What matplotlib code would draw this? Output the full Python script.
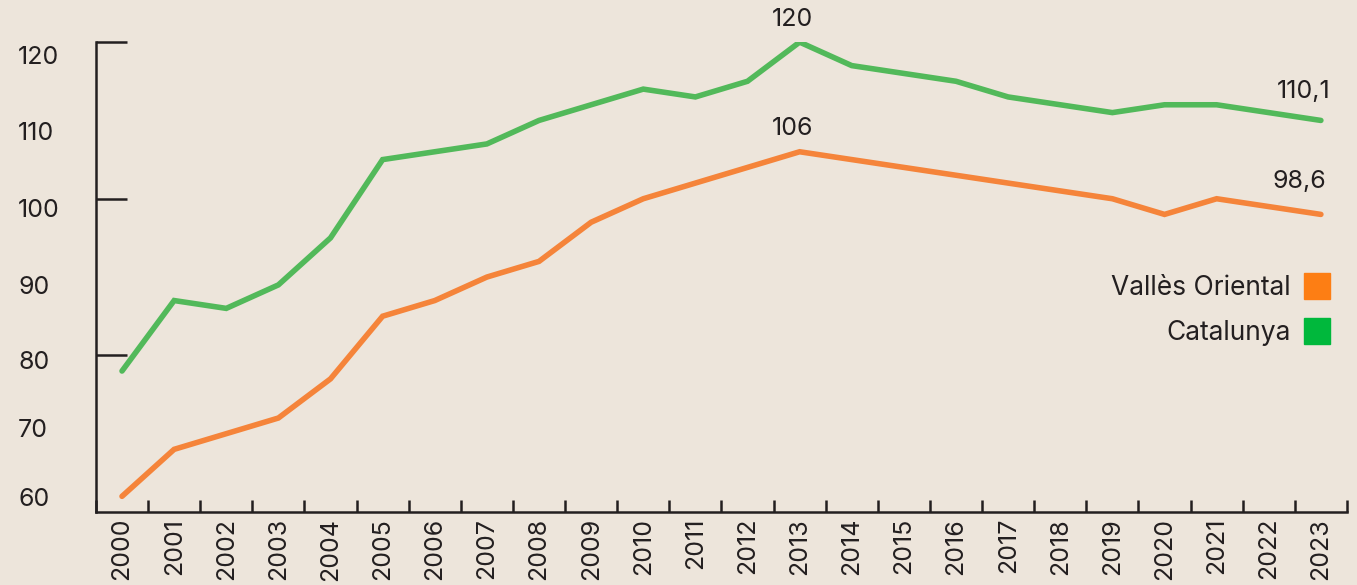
import numpy as np
import matplotlib
matplotlib.use("Agg")
import matplotlib.pyplot as plt
from matplotlib.lines import Line2D

plt.rcParams['font.family'] = ['Inter', 'DejaVu Sans']

years = [str(y) for y in range(2000, 2024)]
catalunya = [78, 87, 86, 89, 95, 105, 106, 107, 110, 112, 114, 113,
             115, 120, 117, 116, 115, 113, 112, 111, 112, 112, 111, 110]
valles = [62, 68, 70, 72, 77, 85, 87, 90, 92, 97, 100, 102,
          104, 106, 105, 104, 103, 102, 101, 100, 98, 100, 99, 98]
ytick_labels = ['60', '70', '80', '90', '100', '110', '120']
labels_series = ['Vallès Oriental', 'Catalunya']

bg = '#ede5db'
ink = '#231f20'
green = '#52b95a'
orange = '#f5843a'

fig = plt.figure(figsize=(13.57, 5.85), dpi=100, facecolor=bg)
ax = fig.add_axes([0.0707, 0.1248, 0.9926 - 0.0707, 0.928 - 0.1248])
ax.set_facecolor(bg)

x = np.arange(len(years))
ax.plot(x, catalunya, color=green, lw=4, solid_capstyle='round', solid_joinstyle='miter')
ax.plot(x, valles, color=orange, lw=4, solid_capstyle='round', solid_joinstyle='miter')

ax.set_xlim(-0.5, len(years) - 0.5)
ax.set_ylim(60, 120)

for s in ['top', 'right']:
    ax.spines[s].set_visible(False)
for s in ['left', 'bottom']:
    ax.spines[s].set_color(ink)
    ax.spines[s].set_linewidth(1.8)

# y: labels sit a bit off their values in the original, long ticks only every 20
label_pos = [61.9, 70.7, 79.4, 89.0, 98.8, 108.6, 118.3]
ax.set_yticks(label_pos, ytick_labels)
ax.set_yticks([80, 100, 120], minor=True)
ax.tick_params(axis='y', which='major', length=0, pad=56, labelsize=18, labelcolor=ink)
for t in ax.get_yticklabels():
    t.set_horizontalalignment('left')
ax.tick_params(axis='y', which='minor', direction='in', length=22.3, width=1.8, color=ink)

# x: ticks between years, labels rotated
ax.set_xticks(np.arange(-0.5, len(years)), [''] * (len(years) + 1))
ax.set_xticks(x, years, minor=True)
ax.tick_params(axis='x', which='major', direction='in', length=8.6, width=1.8, color=ink)
ax.tick_params(axis='x', which='minor', length=0, pad=4.3, labelsize=18,
               labelcolor=ink, labelrotation=90)

def note(i, vals, txt, dx, dy, ha):
    ax.annotate(txt, (x[i], vals[i]), xytext=(dx, dy), textcoords='offset points',
                ha=ha, va='center', fontsize=18, color=ink)

peak = int(np.argmax(catalunya))
note(peak, catalunya, '120', -5, 16.5, 'center')
note(peak, valles, '106', -5, 16.5, 'center')
note(len(years) - 1, catalunya, '110,1', 7, 21, 'right')
note(len(years) - 1, valles, '98,6', 4, 24, 'right')

handles = [Line2D([], [], ls='none', marker='s', markersize=19.4, color='#fd7e14'),
           Line2D([], [], ls='none', marker='s', markersize=19.4, color='#00b83c')]
ax.legend(handles, labels_series, loc='center right', bbox_to_anchor=(0.987, 0.428),
          markerfirst=False, frameon=False, fontsize=19, borderpad=0, borderaxespad=0,
          handlelength=1.02, handletextpad=0.49, labelspacing=0.72, labelcolor=ink)

fig.savefig('out.png', dpi=100, facecolor=bg)
